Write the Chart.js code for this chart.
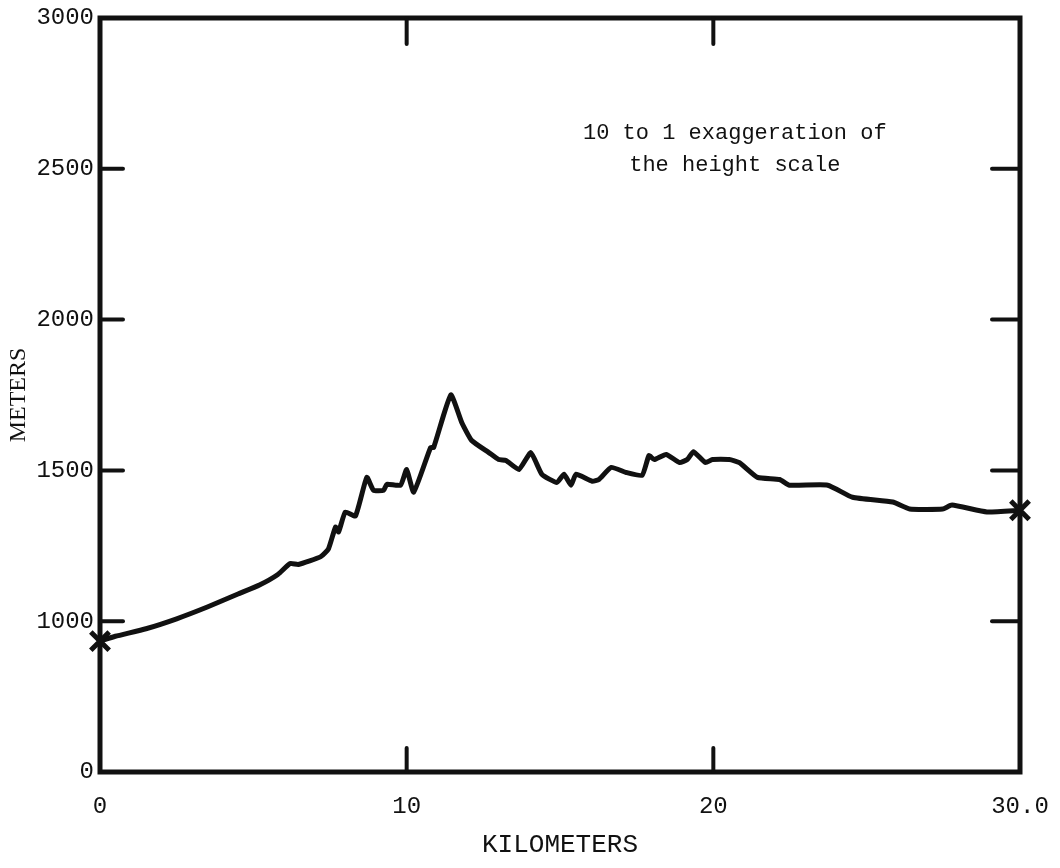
<!DOCTYPE html>
<html>
<head>
<meta charset="utf-8">
<title>Profile</title>
<script src="https://cdn.jsdelivr.net/npm/chart.js@4.4.1/dist/chart.umd.min.js"></script>
<style>
  html, body { margin: 0; padding: 0; background: #fff; }
  canvas { display: block; }
</style>
</head>
<body>
<canvas id="profile" width="1060" height="868"></canvas>
<script>
// distance along the profile (km) and ground height (m)
const km = [0, 0.5, 1.5, 2.5, 3.5, 4.5, 5.2, 5.8, 6.2, 6.47, 7.2, 7.45, 7.68, 7.78, 8.0, 8.33,
  8.7, 8.92, 9.25, 9.35, 9.8, 10.0, 10.23, 10.78, 10.88, 11.44, 11.8, 12.12, 12.68, 13.0,
  13.24, 13.66, 14.05, 14.41, 14.9, 15.13, 15.36, 15.52, 16.05, 16.27, 16.67, 17.16, 17.68,
  17.9, 18.07, 18.46, 18.9, 19.15, 19.35, 19.74, 19.97, 20.52, 20.85, 21.44, 22.16, 22.48,
  23.73, 24.54, 25.85, 26.4, 27.48, 27.78, 28.92, 30.0];
const height = [934, 950, 975, 1008, 1047, 1090, 1120, 1155, 1191, 1188, 1214, 1240, 1312, 1296,
  1362, 1349, 1477, 1434, 1434, 1454, 1451, 1503, 1428, 1576, 1576, 1750, 1658, 1599, 1559,
  1536, 1533, 1503, 1559, 1487, 1460, 1487, 1451, 1487, 1464, 1470, 1510, 1493, 1484, 1549,
  1536, 1553, 1526, 1536, 1562, 1526, 1536, 1536, 1526, 1477, 1470, 1451, 1451, 1411, 1395,
  1372, 1372, 1385, 1362, 1368];

// axis ticks (the height axis is broken: its bottom edge is marked 0)
const kmTicks = [0, 10, 20, 30];
const heightTicks = [500, 1000, 1500, 2000, 2500, 3000];
const frameTicksKm = [10, 20];
const frameTicksHeight = [1000, 1500, 2000, 2500];
const note = ["10 to 1 exaggeration of", "the height scale"];

const ink = "#111";
const mono = "'Liberation Mono', 'DejaVu Sans Mono', monospace";

function line(ctx, x1, y1, x2, y2) {
  ctx.beginPath();
  ctx.moveTo(x1, y1);
  ctx.lineTo(x2, y2);
  ctx.stroke();
}

// box round the plot, inward tick marks, and the note
const frame = {
  id: "frame",
  beforeDatasetsDraw(chart) {
    const { ctx, chartArea: a, scales: { x, y } } = chart;
    ctx.save();
    ctx.strokeStyle = ink;
    ctx.lineCap = "round";
    ctx.lineWidth = 5;
    ctx.strokeRect(a.left, a.top, a.right - a.left, a.bottom - a.top);
    ctx.lineWidth = 4;
    frameTicksHeight.forEach(v => {
      const py = y.getPixelForValue(v);
      line(ctx, a.left, py, a.left + 23, py);
      line(ctx, a.right - 28, py, a.right, py);
    });
    frameTicksKm.forEach(v => {
      const px = x.getPixelForValue(v);
      line(ctx, px, a.top, px, a.top + 26);
      line(ctx, px, a.bottom, px, a.bottom - 24);
    });
    ctx.fillStyle = ink;
    ctx.font = "22px " + mono;
    ctx.textAlign = "center";
    ctx.textBaseline = "middle";
    const nx = x.getPixelForValue(20.7);
    ctx.fillText(note[0], nx, y.getPixelForValue(2618));
    ctx.fillText(note[1], nx, y.getPixelForValue(2513));
    ctx.restore();
  }
};

const points = km.map((k, i) => ({ x: k, y: height[i] }));
const last = points.length - 1;

new Chart(document.getElementById("profile"), {
  type: "line",
  data: {
    datasets: [{
      data: points,
      borderColor: ink,
      borderWidth: 5,
      borderJoinStyle: "round",
      borderCapStyle: "round",
      tension: 0.15,
      clip: false,
      pointStyle: "crossRot",
      pointRadius: c => (c.dataIndex === 0 || c.dataIndex === last) ? 13 : 0,
      pointBorderWidth: 5,
      pointBorderColor: ink,
      pointHoverRadius: 0
    }]
  },
  options: {
    responsive: false,
    animation: false,
    layout: { padding: { top: 7, right: 40, left: 0, bottom: 0 } },
    plugins: { legend: { display: false }, tooltip: { enabled: false } },
    scales: {
      x: {
        type: "linear",
        min: 0,
        max: 30,
        afterBuildTicks: s => { s.ticks = kmTicks.map(v => ({ value: v })); },
        afterFit: s => { s.height = 96; s.paddingLeft = 0; s.paddingRight = 0; },
        grid: { display: false, drawTicks: false },
        border: { display: false },
        ticks: {
          color: ink,
          padding: 20,
          maxRotation: 0,
          font: { family: mono, size: 24 },
          callback: v => v === 30 ? "30.0" : String(v)
        },
        title: {
          display: true,
          text: "KILOMETERS",
          color: ink,
          font: { family: mono, size: 26 },
          padding: { top: 0, bottom: 7 }
        }
      },
      y: {
        min: 500,
        max: 3000,
        afterBuildTicks: s => { s.ticks = heightTicks.map(v => ({ value: v })); },
        afterFit: s => { s.width = 100; s.paddingTop = 0; s.paddingBottom = 0; },
        grid: { display: false, drawTicks: false },
        border: { display: false },
        ticks: {
          color: ink,
          padding: 6,
          font: { family: mono, size: 24 },
          callback: v => v === 500 ? "0" : String(v)
        },
        title: {
          display: true,
          text: "METERS",
          color: ink,
          font: { family: "'Liberation Serif', serif", size: 24 },
          padding: { top: 4, bottom: 0 }
        }
      }
    }
  },
  plugins: [frame]
});
</script>
</body>
</html>
